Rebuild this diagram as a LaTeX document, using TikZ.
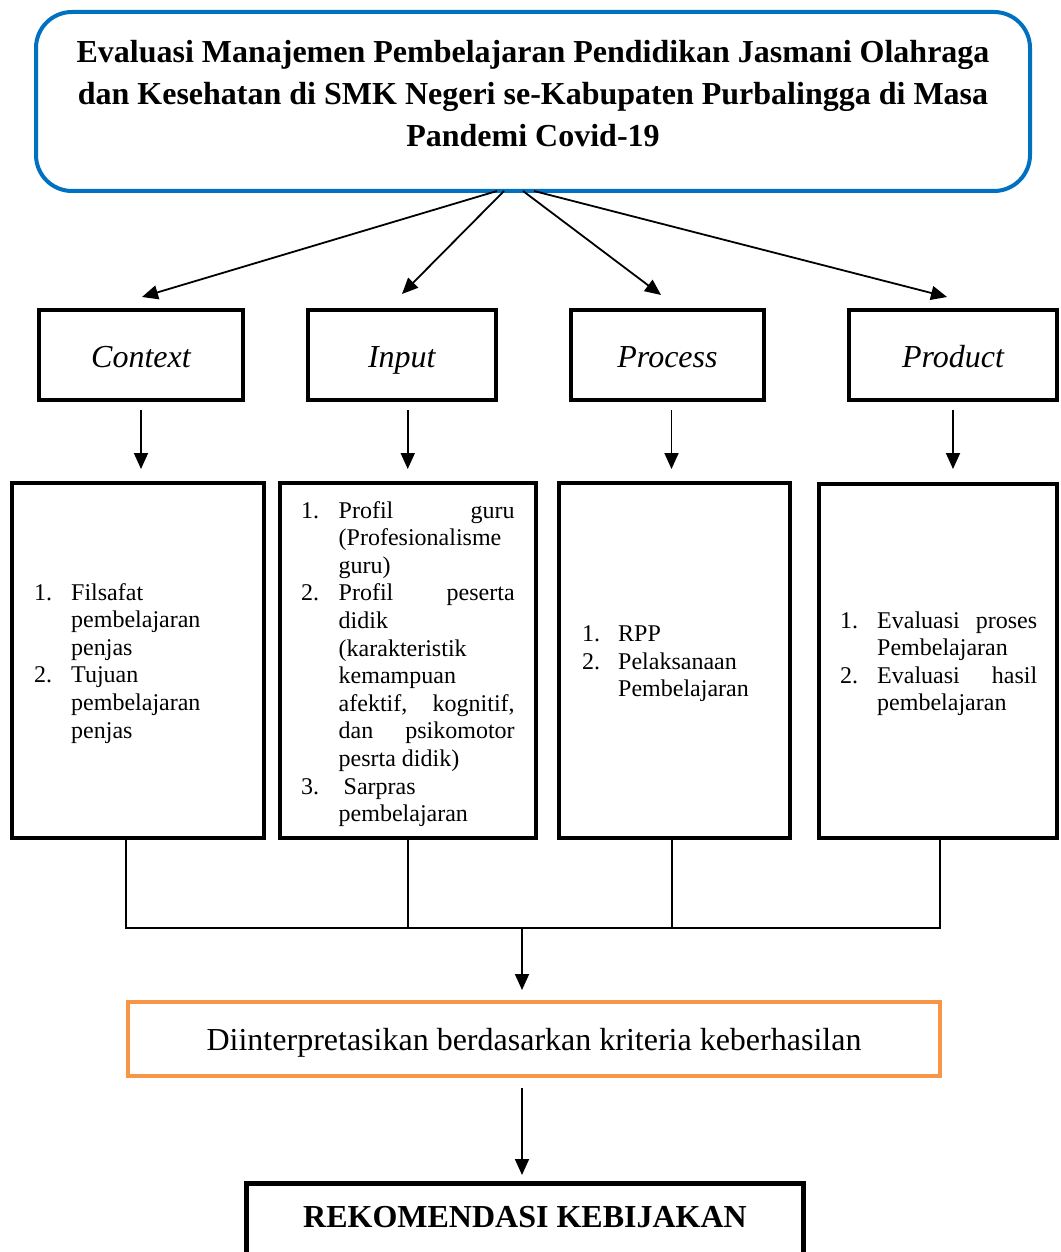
\documentclass[tikz,border=0pt]{standalone}
\usepackage{fontspec}
\setmainfont{Liberation Serif}
\usetikzlibrary{arrows.meta}
\definecolor{titleblue}{HTML}{0070C0}
\definecolor{boxorange}{HTML}{F79646}
\newcommand\numc[2]{\makebox[#1][l]{#2}}
\begin{document}
\begin{tikzpicture}[x=1pt,y=-1pt,
  thickbox/.style={draw=black, line width=4pt, inner sep=0pt},
  conn/.style={line width=1.8pt},
  arr/.style={conn, -{Triangle[length=16pt,width=14pt]}},
  listtext/.style={anchor=base west, inner sep=0pt},
  cipp/.style={thickbox, font=\itshape\fontsize{32}{38}\selectfont, text height=26pt, text depth=2pt},
]
\useasboundingbox (0,0) rectangle (1060,1252);

% title
\node[draw=titleblue, line width=4pt, rounded corners=36pt, minimum width=994pt, minimum height=179pt, inner sep=0pt] (title) at (533,101.5) {};
\node[anchor=base, inner sep=0pt] (titletext) at (533,63) {\parbox[t]{1000pt}{\centering\bfseries\fontsize{32}{42}\selectfont
Evaluasi Manajemen Pembelajaran Pendidikan Jasmani Olahraga\\
dan Kesehatan di SMK Negeri se-Kabupaten Purbalingga di Masa\\
Pandemi Covid-19}};

% free ends of the fan of arrows
\coordinate (s1) at (497,191); \coordinate (e1) at (142,297);
\coordinate (s2) at (504,191); \coordinate (e2) at (402,294);
\coordinate (s3) at (523,191); \coordinate (e3) at (661,295);
\coordinate (s4) at (534,191); \coordinate (e4) at (947,297);

% CIPP boxes
\node[cipp, minimum width=204pt, minimum height=90pt] (ctx) at (141,355) {Context};
\node[cipp, minimum width=188.4pt, minimum height=90pt] (inp) at (401.8,355) {Input};
\node[cipp, minimum width=193pt, minimum height=90pt] (proc) at (667.5,355) {Process};
\node[cipp, minimum width=208pt, minimum height=90pt] (prod) at (953,355) {Product};

\draw[arr] (s1) -- (e1);
\draw[arr] (s2) -- (e2);
\draw[arr] (s3) -- (e3);
\draw[arr] (s4) -- (e4);

% list boxes
\node[thickbox, minimum width=251.4pt, minimum height=355.3pt] (ctxlist) at (138.1,660.35) {};
\node[thickbox, minimum width=255.5pt, minimum height=355.3pt] (inplist) at (407.75,660.35) {};
\node[thickbox, minimum width=231pt, minimum height=355.3pt] (proclist) at (674.5,660.35) {};
\node[thickbox, minimum width=238.3pt, minimum height=354.3pt] (prodlist) at (937.85,660.85) {};

\node[listtext] (ctxtext) at (34,600) {\parbox[t]{220pt}{\fontsize{24}{27.6}\selectfont
\numc{37pt}{1.}Filsafat\\
\hspace*{37pt}pembelajaran\\
\hspace*{37pt}penjas\\
\numc{37pt}{2.}Tujuan\\
\hspace*{37pt}pembelajaran\\
\hspace*{37pt}penjas}};

\node[listtext] (inptext) at (301,518) {\parbox[t]{230pt}{\fontsize{24}{27.6}\selectfont
\numc{37.5pt}{1.}\makebox[176pt][s]{Profil guru}\\
\hspace*{37.5pt}(Profesionalisme\\
\hspace*{37.5pt}guru)\\
\numc{37.5pt}{2.}\makebox[176pt][s]{Profil peserta}\\
\hspace*{37.5pt}didik\\
\hspace*{37.5pt}(karakteristik\\
\hspace*{37.5pt}kemampuan\\
\hspace*{37.5pt}\makebox[176pt][s]{afektif, kognitif,}\\
\hspace*{37.5pt}\makebox[176pt][s]{dan psikomotor}\\
\hspace*{37.5pt}pesrta didik)\\
\numc{42.5pt}{3.}Sarpras\\
\hspace*{37.5pt}pembelajaran}};

\node[listtext] (proctext) at (582,641.7) {\parbox[t]{200pt}{\fontsize{24}{27.6}\selectfont
\numc{36pt}{1.}RPP\\
\numc{36pt}{2.}Pelaksanaan\\
\hspace*{36pt}Pembelajaran}};

\node[listtext] (prodtext) at (840,628) {\parbox[t]{210pt}{\fontsize{24}{27.6}\selectfont
\numc{37pt}{1.}\makebox[160pt][s]{Evaluasi proses}\\
\hspace*{37pt}Pembelajaran\\
\numc{37pt}{2.}\makebox[160pt][s]{Evaluasi hasil}\\
\hspace*{37pt}pembelajaran}};

% down arrows
\draw[arr, shorten <=8pt, shorten >=11.7pt] (ctx.south) -- (ctx.south |- ctxlist.north);
\draw[arr, shorten <=8pt, shorten >=11.7pt] (inplist.north |- inp.south) -- (inplist.north);
\draw[arr, shorten <=8pt, shorten >=11.7pt] ([xshift=4pt]proc.south) -- ([xshift=4pt]proc.south |- proclist.north);
\draw[arr, shorten <=8pt, shorten >=12.7pt] (prod.south) -- (prod.south |- prodlist.north);

% bus
\coordinate (busL) at (126,928);
\coordinate (busR) at (940,928);
\coordinate (busM) at (522,928);
\draw[conn] (ctxlist.south -| busL) -- (busL) -- (busR) -- (prodlist.south -| busR);
\draw[conn] (inplist.south) -- (inplist.south |- busL);
\draw[conn] ([xshift=-2.5pt]proclist.south) -- ([xshift=-2.5pt]proclist.south |- busL);

% interpretation
\node[draw=boxorange, line width=4pt, inner sep=0pt, minimum width=812pt, minimum height=74pt, text height=24pt, text depth=2pt, font=\fontsize{32}{38}\selectfont] (interp) at (534,1039) {Diinterpretasikan berdasarkan kriteria keberhasilan};
\draw[arr, shorten >=10pt] (busM) -- (interp.north -| busM);

% recommendation
\node[draw=black, line width=5pt, inner sep=0pt, minimum width=557pt, minimum height=120pt, anchor=north] (rek) at (525,1180.5) {};
\node[inner sep=0pt, font=\bfseries\fontsize{32}{38}\selectfont] (rektext) at (525,1217) {REKOMENDASI KEBIJAKAN};
\draw[arr, shorten <=10pt, shorten >=5.5pt] (interp.south -| busM) -- (rek.north -| busM);
\end{tikzpicture}
\end{document}
